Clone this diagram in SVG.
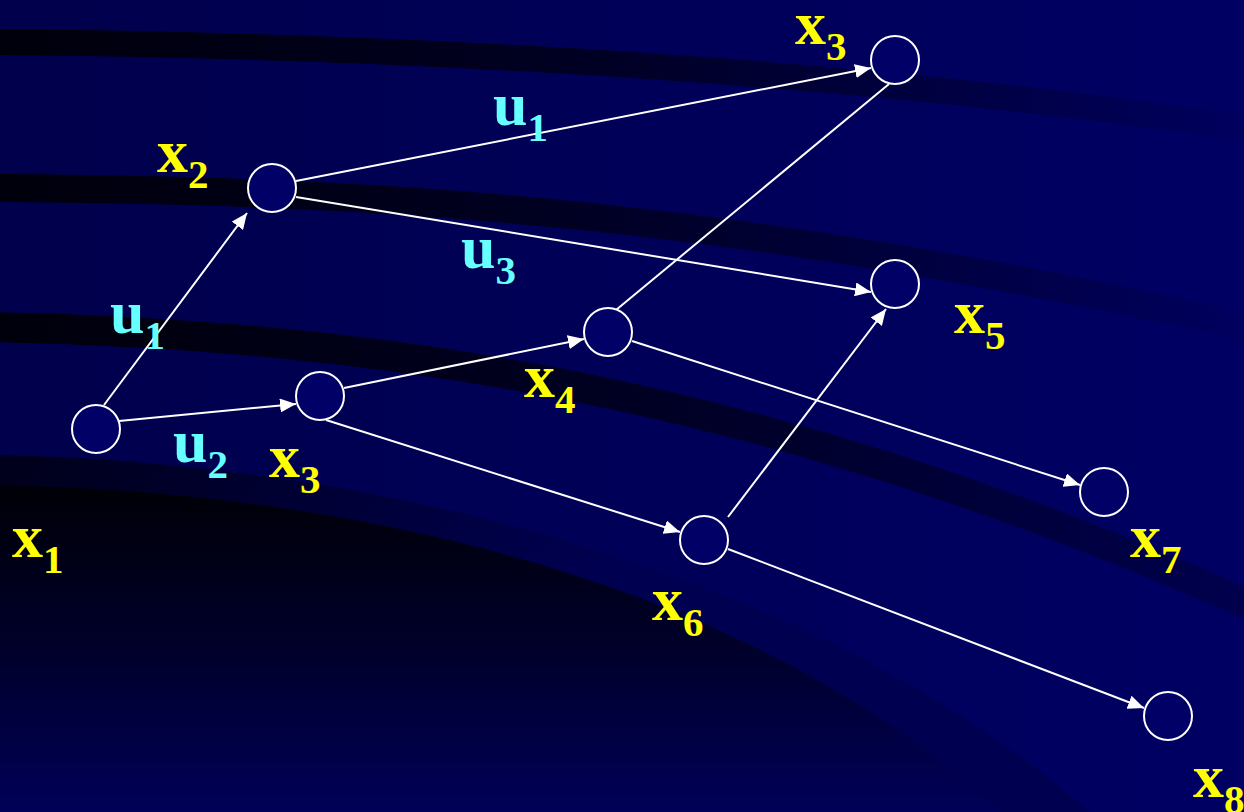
<svg xmlns="http://www.w3.org/2000/svg" width="1244" height="812" viewBox="0 0 1244 812">
<defs>
<style>
.node{fill:#000066;stroke:#ffffff;stroke-width:2}
.edge{stroke:#ffffff;stroke-width:2;fill:none}
.lx{font-family:"Liberation Serif","Times New Roman",serif;font-weight:bold;font-size:62px;fill:#ffff00}
.lu{font-family:"Liberation Serif","Times New Roman",serif;font-weight:bold;font-size:62px;fill:#66ffff}
.sub{font-size:41px}
.band{fill:none}
</style>
<linearGradient id="bg" x1="0" y1="0" x2="1" y2="0">
<stop offset="0" stop-color="#00004c"/>
<stop offset="1" stop-color="#000064"/>
</linearGradient>
<linearGradient id="bandg" gradientUnits="userSpaceOnUse" x1="0" y1="0" x2="1244" y2="0">
<stop offset="0" stop-color="#00000c" stop-opacity="1"/>
<stop offset="0.45" stop-color="#00000c" stop-opacity="0.7"/>
<stop offset="1" stop-color="#00000c" stop-opacity="0.06"/>
</linearGradient>
<linearGradient id="bandg3" gradientUnits="userSpaceOnUse" x1="0" y1="0" x2="1244" y2="0">
<stop offset="0" stop-color="#00000c" stop-opacity="1"/>
<stop offset="0.5" stop-color="#00000c" stop-opacity="0.7"/>
<stop offset="1" stop-color="#00000c" stop-opacity="0.25"/>
</linearGradient>
<linearGradient id="outerg" gradientUnits="userSpaceOnUse" x1="0" y1="455" x2="300" y2="812">
<stop offset="0" stop-color="#00001a"/>
<stop offset="1" stop-color="#000050"/>
</linearGradient>
<linearGradient id="innerg" gradientUnits="userSpaceOnUse" x1="0" y1="490" x2="0" y2="812">
<stop offset="0" stop-color="#000008"/>
<stop offset="0.5" stop-color="#00002c"/>
<stop offset="1" stop-color="#000058"/>
</linearGradient>
<marker id="arr" markerWidth="17" markerHeight="14" refX="16" refY="7" orient="auto" markerUnits="userSpaceOnUse">
<path d="M0,0 L16,7 L0,14 Z" fill="#ffffff"/>
</marker>
</defs>

<g id="background">
<rect x="0" y="0" width="1244" height="812" fill="url(#bg)"/>
<path class="band" d="M -10 42 Q 700 48 1260 130" stroke="url(#bandg)" stroke-width="26"/>
<path class="band" d="M -10 188 C 400 190, 750 215, 1260 330" stroke="url(#bandg)" stroke-width="28"/>
<path class="band" d="M -10 327 C 350 335, 750 380, 1260 610" stroke="url(#bandg3)" stroke-width="30"/>
<path d="M -10 455 C 350 460, 800 560, 1090 812 L -10 812 Z" fill="url(#outerg)"/>
<path d="M -10 485 C 350 490, 750 580, 1000 812 L -10 812 Z" fill="url(#innerg)"/>
</g>

<g id="connectors">
<line class="edge" x1="104" y1="405" x2="247" y2="213" marker-end="url(#arr)"/>
<line class="edge" x1="119" y1="421" x2="296" y2="404" marker-end="url(#arr)"/>
<line class="edge" x1="296" y1="181" x2="871" y2="68" marker-end="url(#arr)"/>
<line class="edge" x1="296" y1="197" x2="871" y2="292" marker-end="url(#arr)"/>
<line class="edge" x1="344" y1="388" x2="584" y2="339" marker-end="url(#arr)"/>
<line class="edge" x1="326" y1="420" x2="680" y2="532" marker-end="url(#arr)"/>
<line class="edge" x1="616" y1="310" x2="889" y2="84"/>
<line class="edge" x1="632" y1="341" x2="1080" y2="485" marker-end="url(#arr)"/>
<line class="edge" x1="728" y1="517" x2="886" y2="309" marker-end="url(#arr)"/>
<line class="edge" x1="728" y1="549" x2="1144" y2="708" marker-end="url(#arr)"/>
</g>

<g id="node-x1"><ellipse class="node" cx="96" cy="429" rx="24" ry="24"/></g>
<g id="node-x2"><ellipse class="node" cx="272" cy="188" rx="24" ry="24"/></g>
<g id="node-x3-mid"><ellipse class="node" cx="320" cy="396" rx="24" ry="24"/></g>
<g id="node-x4"><ellipse class="node" cx="608" cy="332" rx="24" ry="24"/></g>
<g id="node-x3-top"><ellipse class="node" cx="895" cy="60" rx="24" ry="24"/></g>
<g id="node-x5"><ellipse class="node" cx="895" cy="284" rx="24" ry="24"/></g>
<g id="node-x6"><ellipse class="node" cx="704" cy="540" rx="24" ry="24"/></g>
<g id="node-x7"><ellipse class="node" cx="1104" cy="492" rx="24" ry="24"/></g>
<g id="node-x8"><ellipse class="node" cx="1168" cy="716" rx="24" ry="24"/></g>

<g id="labels">
<text class="lx" x="795" y="44">x<tspan class="sub" dy="16">3</tspan></text>
<text class="lx" x="157" y="172">x<tspan class="sub" dy="16">2</tspan></text>
<text class="lx" x="524" y="397">x<tspan class="sub" dy="16">4</tspan></text>
<text class="lx" x="954" y="333">x<tspan class="sub" dy="16">5</tspan></text>
<text class="lx" x="269" y="477">x<tspan class="sub" dy="16">3</tspan></text>
<text class="lx" x="12" y="557">x<tspan class="sub" dy="16">1</tspan></text>
<text class="lx" x="652" y="620">x<tspan class="sub" dy="16">6</tspan></text>
<text class="lx" x="1130" y="557">x<tspan class="sub" dy="16">7</tspan></text>
<text class="lx" x="1193" y="797">x<tspan class="sub" dy="16">8</tspan></text>
<text class="lu" x="493" y="125">u<tspan class="sub" dy="16">1</tspan></text>
<text class="lu" x="461" y="268">u<tspan class="sub" dy="16">3</tspan></text>
<text class="lu" x="110" y="333">u<tspan class="sub" dy="16">1</tspan></text>
<text class="lu" x="173" y="462">u<tspan class="sub" dy="16">2</tspan></text>
</g>
</svg>
